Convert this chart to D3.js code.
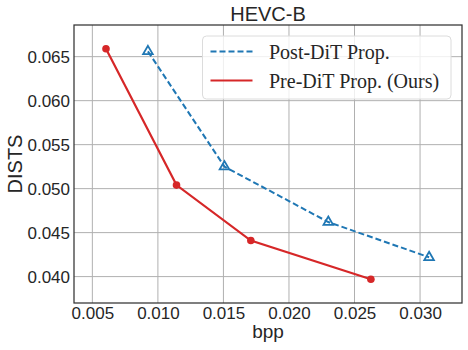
<!DOCTYPE html>
<html>
<head>
<meta charset="utf-8">
<script src="https://cdn.jsdelivr.net/npm/d3@7"></script>
<style>
  body { margin: 0; background: #fff; }
  .tick text { font-family: 'Liberation Sans', Arial, sans-serif; font-size: 17px; fill: #262626; }
  .grid line { stroke: #b0b0b0; stroke-width: 1; }
</style>
</head>
<body>
<script>
// data
let postBpp   = [0.00924, 0.01508, 0.0230, 0.03069]
let postDists = [0.0656, 0.0525, 0.0462, 0.0422]
let preBpp    = [0.00604, 0.01142, 0.01709, 0.02625]
let preDists  = [0.0659, 0.0504, 0.0441, 0.0397]
let xTicks = [0.005, 0.010, 0.015, 0.020, 0.025, 0.030]
let yTicks = [0.040, 0.045, 0.050, 0.055, 0.060, 0.065]
let seriesNames = ['Post-DiT Prop.', 'Pre-DiT Prop. (Ours)']

let W = 468, H = 350
let margin = {top: 25, right: 6, bottom: 47, left: 74}
let width = W - margin.left - margin.right
let height = H - margin.top - margin.bottom

let svg = d3.select('body').append('svg')
    .attr('width', W)
    .attr('height', H)

let g = svg.append('g')
    .attr('transform', 'translate(' + margin.left + ',' + margin.top + ')')

let x = d3.scaleLinear().domain([0.0036, 0.0332]).range([0, width])
let y = d3.scaleLinear().domain([0.0370, 0.0686]).range([height, 0])

// grid
g.append('g').attr('class', 'grid')
    .selectAll('line').data(xTicks).join('line')
    .attr('x1', d => x(d)).attr('x2', d => x(d))
    .attr('y1', 0).attr('y2', height)
g.append('g').attr('class', 'grid')
    .selectAll('line').data(yTicks).join('line')
    .attr('x1', 0).attr('x2', width)
    .attr('y1', d => y(d)).attr('y2', d => y(d))

// axes (labels only)
let xAxis = d3.axisBottom(x).tickValues(xTicks).tickFormat(d3.format('.3f')).tickSize(0).tickPadding(4)
let yAxis = d3.axisLeft(y).tickValues(yTicks).tickFormat(d3.format('.3f')).tickSize(0).tickPadding(4)

g.append('g').attr('transform', 'translate(0,' + height + ')').call(xAxis)
    .call(a => a.select('.domain').remove())
g.append('g').call(yAxis)
    .call(a => a.select('.domain').remove())
    .selectAll('text').attr('dy', '0.36em')

// frame
g.append('rect')
    .attr('width', width).attr('height', height)
    .attr('fill', 'none').attr('stroke', '#333').attr('stroke-width', 1.25)

let line = d3.line().x(d => x(d[0])).y(d => y(d[1]))
let post = d3.zip(postBpp, postDists)
let pre = d3.zip(preBpp, preDists)

g.append('path').datum(post)
    .attr('d', line)
    .attr('fill', 'none').attr('stroke', '#1f77b4').attr('stroke-width', 2)
    .attr('stroke-dasharray', '6,3')

g.selectAll('.tri').data(post).join('path')
    .attr('class', 'tri')
    .attr('transform', d => 'translate(' + x(d[0]) + ',' + y(d[1]) + ')')
    .attr('d', d3.symbol(d3.symbolTriangle, 40))
    .attr('fill', 'none').attr('stroke', '#1f77b4').attr('stroke-width', 1.8)

g.append('path').datum(pre)
    .attr('d', line)
    .attr('fill', 'none').attr('stroke', '#d62728').attr('stroke-width', 2.2)

g.selectAll('.dot').data(pre).join('circle')
    .attr('class', 'dot')
    .attr('cx', d => x(d[0])).attr('cy', d => y(d[1]))
    .attr('r', 3.8)
    .attr('fill', '#d62728')

// legend
let legend = svg.append('g').attr('transform', 'translate(202.5,36)')
legend.append('rect')
    .attr('width', 248.5).attr('height', 63)
    .attr('rx', 4)
    .attr('fill', 'rgba(255,255,255,0.8)')
    .attr('stroke', '#dcdcdc').attr('stroke-width', 1)

legend.append('line')
    .attr('x1', 8).attr('x2', 50).attr('y1', 15.5).attr('y2', 15.5)
    .attr('stroke', '#1f77b4').attr('stroke-width', 2).attr('stroke-dasharray', '6,3')
legend.append('line')
    .attr('x1', 8).attr('x2', 50).attr('y1', 44.5).attr('y2', 44.5)
    .attr('stroke', '#d62728').attr('stroke-width', 2.2)

legend.selectAll('text').data(seriesNames).join('text')
    .attr('x', 66.5)
    .attr('y', (d, i) => 23 + i * 29)
    .text(d => d)
    .style('font-family', "'Liberation Serif', 'Times New Roman', serif")
    .style('font-size', '20px')
    .style('fill', '#262626')

// titles
svg.append('text')
    .attr('x', margin.left + width / 2).attr('y', 20.5)
    .attr('text-anchor', 'middle')
    .text('HEVC-B')
    .style('font-family', "'Liberation Sans', Arial, sans-serif")
    .style('font-size', '20px').style('fill', '#262626')

svg.append('text')
    .attr('x', margin.left + width / 2).attr('y', 338)
    .attr('text-anchor', 'middle')
    .text('bpp')
    .style('font-family', "'Liberation Sans', Arial, sans-serif")
    .style('font-size', '19px').style('fill', '#262626')

svg.append('text')
    .attr('transform', 'translate(22,' + (margin.top + height / 2) + ') rotate(-90)')
    .attr('text-anchor', 'middle')
    .text('DISTS')
    .style('font-family', "'Liberation Sans', Arial, sans-serif")
    .style('font-size', '20px').style('fill', '#262626')
</script>
</body>
</html>
